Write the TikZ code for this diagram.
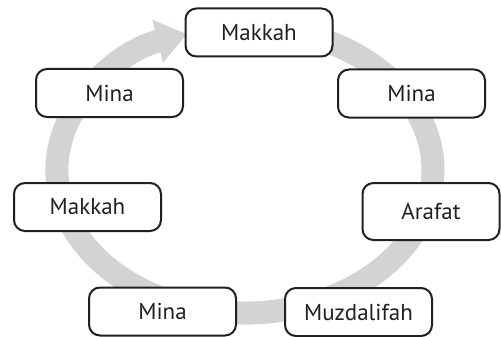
\documentclass[tikz,border=0pt]{standalone}
\usepackage{fontspec}
\setmainfont{PT Sans}
\usetikzlibrary{arrows.meta}
\definecolor{ringgray}{RGB}{209,211,212}
\definecolor{boxline}{RGB}{35,31,32}
\begin{document}
\begin{tikzpicture}[x=1pt,y=-1pt,
  place/.style={draw=boxline, line width=2pt, fill=white, rounded corners=11pt,
    minimum width=147pt, minimum height=48pt, inner sep=0pt,
    font=\fontsize{23}{27}\selectfont, text=boxline}]
\useasboundingbox (0,0) rectangle (501,337);
\fill[white] (0,0) rectangle (501,337);
% cycle ring with arrow
\draw[ringgray, line width=23pt, -{Triangle[length=30pt,width=42pt]}]
  (277.6,29.2) arc[start angle=-80, end angle=252, x radius=188, y radius=143];
% stations
\node[place] (mk1) at (259,32.5) {Makkah};
\node[place] (mn1) at (109.5,93) {Mina};
\node[place] (mn2) at (411.5,93.5) {Mina};
\node[place] (mk2) at (87.5,207) {Makkah};
\node[place, minimum width=137pt, minimum height=57pt] (ar) at (431,211.5) {Arafat};
\node[place] (mn3) at (162.5,311.5) {Mina};
\node[place] (mz) at (358.5,312) {Muzdalifah};
\end{tikzpicture}
\end{document}
